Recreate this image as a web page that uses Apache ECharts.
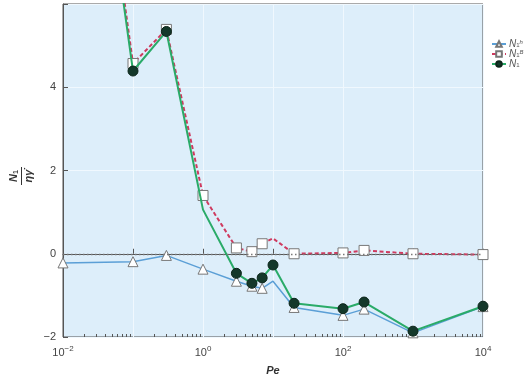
<!DOCTYPE html>
<html>
<head>
<meta charset="utf-8">
<script src="https://cdn.jsdelivr.net/npm/echarts@6/dist/echarts.min.js"></script>
<style>
  html, body { margin: 0; padding: 0; background: #ffffff; }
  #chart { width: 530px; height: 379px; }
</style>
</head>
<body>
<div id="chart"></div>
<script>
// Péclet numbers at which the first normal stress difference was computed
const peValues = [0.01, 0.1, 0.3, 1, 3, 5, 7, 10, 20, 100, 200, 1000, 10000];

// Hydrodynamic contribution N1^h / (eta * gammadot)
const n1Hydro = [-0.22, -0.19, -0.04, -0.37, -0.66, -0.78, -0.83, -0.66, -1.29, -1.48, -1.33, -1.90, -1.27];
// Brownian contribution N1^B / (eta * gammadot)
const n1Brown = [16.7, 4.57, 5.39, 1.40, 0.14, 0.05, 0.24, 0.37, 0.00, 0.02, 0.08, 0.00, -0.02];
// Total N1 / (eta * gammadot)
const n1Total = [16.5, 4.39, 5.34, 1.06, -0.47, -0.71, -0.58, -0.27, -1.19, -1.32, -1.16, -1.86, -1.26];

// Axis ticks and labels
const xDecades = [0.01, 0.1, 1, 10, 100, 1000, 10000];
const xLabelValues = [0.01, 1, 100, 10000];
const yTickValues = [-2, 0, 2, 4];

// Points plotted without a marker (index into peValues)
const bareHydro = [7];
const bareBrown = [7];
const bareTotal = [3];

// Log-axis minor ticks: 2..9 within every decade
const xMinorTicks = [];
for (let e = -2; e < 4; e++) {
  for (let k = 2; k <= 9; k++) xMinorTicks.push(+(k * Math.pow(10, e)).toPrecision(3));
}

function pairs(ys, bare) {
  return peValues.map((x, i) => bare.includes(i)
    ? { value: [x, ys[i]], symbol: 'none' }
    : [x, ys[i]]);
}

const FONT = 'Liberation Sans, Arial, sans-serif';
const INK = '#444';
const UP = Math.PI / 2;   // text turned to read bottom-to-top

const legendText = {
  N1h: '{n|N}{s|1}{p|h}',
  N1B: '{n|N}{s|1}{p|B}',
  N1: '{n|N}{s|1}'
};

const chart = echarts.init(document.getElementById('chart'), null, { renderer: 'canvas' });

chart.setOption({
  animation: false,
  backgroundColor: '#ffffff',
  textStyle: { fontFamily: FONT },
  grid: {
    left: 63, right: 47, top: 4, bottom: 42,
    containLabel: false,
    outerBoundsMode: 'none',
    show: true,
    backgroundColor: '#ddeefa',
    borderColor: '#555',
    borderWidth: 1
  },
  legend: {
    orient: 'vertical',
    left: 486, top: 34,
    itemWidth: 14, itemHeight: 7, itemGap: 0,
    data: ['N1h', 'N1B', 'N1'],
    formatter: name => legendText[name],
    textStyle: {
      color: '#555',
      lineHeight: 9.5,
      padding: [0, 0, 0, -2],
      rich: {
        n: { fontSize: 10, fontStyle: 'italic', color: '#555', fontFamily: FONT, lineHeight: 9.5 },
        s: { fontSize: 6, color: '#555', fontFamily: FONT, lineHeight: 9.5, verticalAlign: 'bottom' },
        p: { fontSize: 6, fontStyle: 'italic', color: '#555', fontFamily: FONT, lineHeight: 9.5, verticalAlign: 'top' }
      }
    }
  },
  xAxis: [
    {
      type: 'log', logBase: 10, min: 0.01, max: 10000,
      axisLine: { show: true, lineStyle: { color: '#555', width: 1 } },
      axisTick: { show: true, inside: true, length: 5, customValues: xDecades, lineStyle: { color: '#555' } },
      axisLabel: {
        customValues: xLabelValues,
        margin: 8,
        color: INK,
        formatter: v => {
          const e = Math.round(Math.log10(v));
          return '{b|10}{e|' + (e < 0 ? '−' + Math.abs(e) : e) + '}';
        },
        rich: {
          b: { fontSize: 11, color: INK, fontFamily: FONT },
          e: { fontSize: 8, color: INK, fontFamily: FONT, padding: [0, 0, 7, 0] }
        }
      },
      splitLine: { show: true, lineStyle: { color: '#f0f8fe', width: 1 } }
    },
    {
      type: 'log', logBase: 10, min: 0.01, max: 10000,
      position: 'bottom',
      axisLine: { show: false },
      axisLabel: { show: false },
      splitLine: { show: false },
      axisTick: { show: true, inside: true, length: 3, customValues: xMinorTicks, lineStyle: { color: '#555' } }
    }
  ],
  yAxis: {
    type: 'value', min: -2, max: 6, interval: 2,
    axisLine: { show: true, lineStyle: { color: '#555', width: 1 } },
    axisTick: { show: true, inside: true, length: 5, lineStyle: { color: '#555' } },
    axisLabel: {
      customValues: yTickValues,
      margin: 7,
      fontSize: 11,
      color: INK,
      formatter: v => (v < 0 ? '−' + Math.abs(v) : String(v))
    },
    splitLine: { show: true, lineStyle: { color: '#f0f8fe', width: 1 } }
  },
  series: [
    {
      name: 'N1h', type: 'line', xAxisIndex: 0,
      data: pairs(n1Hydro, bareHydro),
      symbol: 'triangle', symbolSize: 10,
      lineStyle: { color: '#5b9fd6', width: 1.5 },
      itemStyle: { color: '#ffffff', borderColor: '#777', borderWidth: 1 },
      markLine: {
        silent: true, symbol: 'none', label: { show: false },
        lineStyle: { color: '#7a7a7a', type: [1.5, 2.5], width: 1.3 },
        data: [{ yAxis: 0 }]
      },
      z: 2
    },
    {
      name: 'N1B', type: 'line', xAxisIndex: 0,
      data: pairs(n1Brown, bareBrown),
      symbol: 'rect', symbolSize: 10,
      lineStyle: { color: '#cf3a5f', width: 2, type: [4, 2.5] },
      itemStyle: { color: '#ffffff', borderColor: '#777', borderWidth: 1 },
      z: 3
    },
    {
      name: 'N1', type: 'line', xAxisIndex: 0,
      data: pairs(n1Total, bareTotal),
      symbol: 'circle', symbolSize: 10,
      lineStyle: { color: '#2aab68', width: 2 },
      itemStyle: { color: '#14382a', borderColor: '#0c2519', borderWidth: 1 },
      z: 4
    }
  ],
  graphic: [
    // y-axis title: N1 over eta*gammadot, reading upwards
    {
      type: 'text', x: 14, y: 176, rotation: UP,
      style: {
        text: '{n|N}{s|1}', align: 'center', verticalAlign: 'middle',
        rich: {
          n: { fontSize: 11, fontWeight: 'bold', fontStyle: 'italic', fill: '#333', fontFamily: FONT, lineHeight: 12 },
          s: { fontSize: 7, fontWeight: 'bold', fill: '#333', fontFamily: FONT, lineHeight: 12, verticalAlign: 'bottom' }
        }
      }
    },
    { type: 'rect', shape: { x: 21, y: 167, width: 1, height: 18 }, style: { fill: '#333' } },
    {
      type: 'text', x: 29, y: 176, rotation: UP,
      style: {
        text: 'ηγ̇', align: 'center', verticalAlign: 'middle',
        fontSize: 11, fontWeight: 'bold', fontStyle: 'italic', fill: '#333', fontFamily: FONT
      }
    },
    {
      type: 'text', x: 273, y: 371,
      style: {
        text: 'Pe', align: 'center', verticalAlign: 'middle',
        fontSize: 11, fontWeight: 'bold', fontStyle: 'italic', fill: '#333', fontFamily: FONT
      }
    }
  ]
});
</script>
</body>
</html>
